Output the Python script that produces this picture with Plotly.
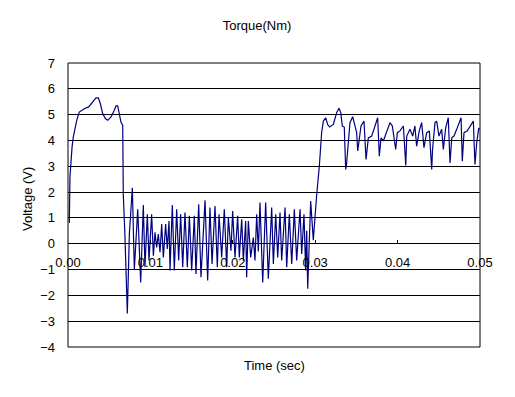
import plotly.graph_objects as go

# Time (sec) and Voltage (V)
time_s = [
    0.00016, 0.00024, 0.00049, 0.00064, 0.00089, 0.00106, 0.00137, 0.00198, 0.00251, 0.00291,
    0.00340, 0.00368, 0.00392, 0.00421, 0.00453, 0.00482, 0.00522, 0.00562, 0.00583, 0.00603,
    0.00623, 0.00643, 0.00664, 0.00671, 0.00690, 0.00705, 0.00720, 0.00745, 0.00781,
    0.00805, 0.00846, 0.00882, 0.00914, 0.00934, 0.00963, 0.00983, 0.01015, 0.01036, 0.01056,
    0.01076, 0.01096, 0.01117, 0.01137, 0.01157, 0.01185, 0.01205, 0.01226, 0.01238, 0.01266,
    0.01290, 0.01319, 0.01343, 0.01367, 0.01392, 0.01420, 0.01448, 0.01473, 0.01501, 0.01533,
    0.01553, 0.01586, 0.01614, 0.01663, 0.01695, 0.01723, 0.01748, 0.01784, 0.01812, 0.01833,
    0.01865, 0.01897, 0.01926, 0.01946, 0.01978, 0.01998, 0.02027, 0.02059, 0.02079, 0.02108,
    0.02128, 0.02156, 0.02168, 0.02189, 0.02217, 0.02249, 0.02269, 0.02290, 0.02310, 0.02330,
    0.02363, 0.02399, 0.02431, 0.02472, 0.02492, 0.02521, 0.02545, 0.02573, 0.02593, 0.02634,
    0.02654, 0.02686, 0.02715, 0.02747, 0.02775, 0.02816, 0.02836, 0.02864, 0.02884, 0.02897,
    0.02909, 0.02945, 0.02977, 0.02998, 0.03018,
    0.03050, 0.03078, 0.03099, 0.03127, 0.03151, 0.03175, 0.03220, 0.03261, 0.03289, 0.03310,
    0.03329, 0.03353, 0.03370, 0.03380, 0.03402, 0.03422, 0.03455, 0.03483, 0.03503, 0.03516,
    0.03536, 0.03556, 0.03592, 0.03617, 0.03645, 0.03685, 0.03726, 0.03758, 0.03778, 0.03799,
    0.03827, 0.03867, 0.03908, 0.03936, 0.03956, 0.03977, 0.03997, 0.04029, 0.04070, 0.04099,
    0.04111, 0.04150, 0.04183, 0.04210, 0.04231, 0.04263, 0.04292, 0.04320, 0.04353, 0.04385,
    0.04414, 0.04424, 0.04454, 0.04474, 0.04502, 0.04535, 0.04555, 0.04584, 0.04615, 0.04636,
    0.04657, 0.04684, 0.04717, 0.04757, 0.04770, 0.04785, 0.04806, 0.04846, 0.04899, 0.04919,
    0.04939, 0.04960, 0.04984, 0.05000,
]
voltage_v = [
    0.80, 2.60, 3.74, 4.13, 4.52, 4.78, 5.10, 5.23, 5.30, 5.45,
    5.65, 5.65, 5.43, 5.04, 4.85, 4.78, 4.91, 5.17, 5.34, 5.34,
    5.04, 4.71, 4.58, 1.90, 0.40, -0.90, -2.70, 0.40, 2.17,
    -1.00, 1.33, -1.50, 1.50, -0.90, 1.14, -0.65, 1.14, -0.46, 0.44,
    -0.14, 0.37, -0.33, 0.76, -0.53, 0.76, -0.20, 0.88, -1.04, 1.50,
    -1.04, 1.33, -0.65, 1.14, -0.91, 1.21, -0.91, 1.08, -1.04, 1.08,
    -1.17, 1.53, -1.30, 1.68, -1.42, 1.40, -0.78, 1.46, -0.91, 1.14,
    -0.53, 1.33, -0.91, 1.01, -0.27, 1.27, -0.53, 1.08, -0.53, 0.95,
    -0.65, 0.88, -1.30, 0.88, -0.53, 0.24, -0.65, 1.14, -0.30, 1.60,
    -1.50, 1.60, -1.36, 1.40, -0.78, 1.14, -0.53, 1.21, -0.65, 1.40,
    -0.91, 1.14, -0.78, 1.33, -0.65, 1.33, -0.40, 1.14, -1.04, 0.50,
    -1.74, 1.65, 0.14, 1.14, 1.90,
    3.00, 4.30, 4.75, 4.88, 4.62, 4.52, 4.62, 5.08, 5.25, 5.08,
    4.56, 4.52, 2.88, 3.07, 3.91, 4.69, 4.92, 4.49, 4.30, 3.59,
    4.04, 4.56, 4.75, 3.26, 4.10, 4.17, 4.56, 4.88, 3.39, 4.10,
    3.98, 4.37, 4.69, 4.56, 4.17, 3.65, 4.30, 4.37, 4.56, 3.03,
    4.17, 4.43, 4.17, 4.56, 3.78, 4.37, 4.69, 3.72, 4.30, 4.37,
    2.88, 3.65, 4.69, 4.75, 4.17, 4.43, 3.65, 4.49, 4.88, 3.13,
    4.10, 4.17, 4.43, 4.82, 4.88, 3.20, 4.30, 4.37, 4.62, 4.75,
    3.07, 3.91, 4.46, 4.43,
]

x_tick_vals = [0.00, 0.01, 0.02, 0.03, 0.04, 0.05]
x_tick_text = ["0.00", "0.01", "0.02", "0.03", "0.04", "0.05"]
y_tick_vals = [-4, -3, -2, -1, 0, 1, 2, 3, 4, 5, 6, 7]

FONT = "Liberation Sans, Arial, sans-serif"
W, H = 507, 389

fig = go.Figure()
fig.add_trace(go.Scatter(
    x=time_s, y=voltage_v, mode="lines",
    line=dict(color="#000080", width=1.2),
    showlegend=False, hoverinfo="skip",
))

y_min, y_max = -4, 7
fig.update_layout(
    width=W, height=H,
    margin=dict(l=60, r=35, t=55, b=50),
    paper_bgcolor="white", plot_bgcolor="white",
    font=dict(family=FONT, size=13, color="black"),
    title=dict(text="Torque(Nm)", x=249 / W, xref="container", xanchor="center",
               y=1 - 17 / H, yref="container", yanchor="middle",
               font=dict(family=FONT, size=13, color="black")),
    xaxis=dict(
        range=[0, 0.05], tickvals=x_tick_vals, ticktext=x_tick_text,
        showgrid=False, zeroline=False,
        showline=False,
        ticks="inside", ticklen=4, tickcolor="black",
        anchor="free", position=(0 - y_min) / (y_max - y_min),
        ticklabelstandoff=9,
        tickfont=dict(size=13),
    ),
    yaxis=dict(
        range=[y_min, y_max], tickvals=y_tick_vals,
        showgrid=True, gridcolor="black", gridwidth=1,
        zeroline=False, showline=False, ticks="",
        ticklabelstandoff=12,
        tickfont=dict(size=13),
    ),
    shapes=[dict(type="rect", xref="paper", yref="paper", x0=0, x1=1, y0=0, y1=1,
                 line=dict(color="black", width=1), fillcolor="rgba(0,0,0,0)", layer="above")],
    annotations=[
        dict(text="Time (sec)", xref="paper", yref="paper", x=0.5, y=0,
             xanchor="center", yanchor="middle", yshift=-18, showarrow=False,
             font=dict(size=13)),
        dict(text="Voltage (V)", xref="paper", yref="paper", x=0, y=0.5,
             xanchor="center", yanchor="middle", xshift=-41, yshift=6,
             textangle=-90, showarrow=False, font=dict(size=13)),
    ],
)

fig.write_html("out.html")
